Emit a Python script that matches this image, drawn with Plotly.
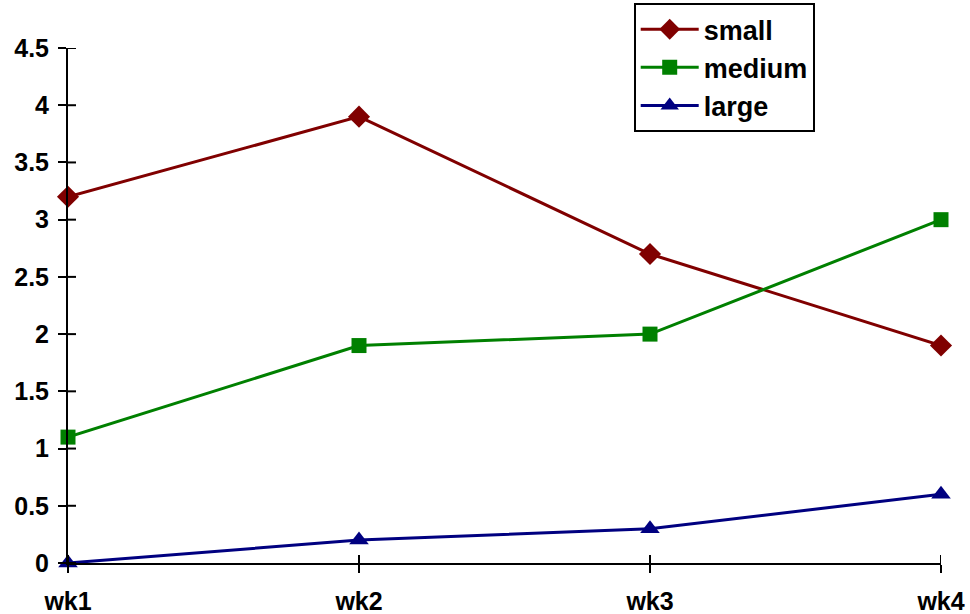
import plotly.graph_objects as go

weeks = ["wk1", "wk2", "wk3", "wk4"]
x_pos = [0, 1, 2, 3]
small = [3.2, 3.9, 2.7, 1.9]
medium = [1.1, 1.9, 2.0, 3.0]
large = [0.0, 0.2, 0.3, 0.6]
y_ticks = [0, 0.5, 1, 1.5, 2, 2.5, 3, 3.5, 4, 4.5]
y_ticktext = ["0", "0.5", "1", "1.5", "2", "2.5", "3", "3.5", "4", "4.5"]

FONT = "Liberation Sans, Arial, sans-serif"

fig = go.Figure()
series = [
    ("small", small, "#800000", "diamond", 17),
    ("medium", medium, "#008000", "square", 15),
    ("large", large, "#000080", "triangle-up", 17),
]
for i, (name, vals, col, sym, sz) in enumerate(series):
    fig.add_trace(go.Scatter(
        x=x_pos, y=vals, name=name, mode="lines+markers",
        line=dict(color=col, width=3),
        marker=dict(symbol=sym, size=sz, color=col),
        cliponaxis=False, legendgroup=f"g{i}",
    ))

# inner half of the crossing tick marks
shapes = []
for xv in x_pos:
    shapes.append(dict(type="line", xref="x", yref="y", ysizemode="pixel", yanchor=0,
                       x0=xv, x1=xv, y0=0, y1=8, line=dict(color="black", width=2),
                       layer="above"))
for yv in y_ticks:
    shapes.append(dict(type="line", xref="x", yref="y", xsizemode="pixel", xanchor=0,
                       x0=0, x1=8, y0=yv, y1=yv, line=dict(color="black", width=2),
                       layer="above"))

tickfont = dict(family=FONT, size=25, color="black", weight="bold")

fig.update_layout(
    width=970, height=614,
    margin=dict(l=68, r=29, t=48, b=51, autoexpand=False),
    paper_bgcolor="white", plot_bgcolor="white",
    font=dict(family=FONT, size=22, color="black"),
    showlegend=True,
    shapes=shapes,
    legend=dict(
        x=0.648, y=1.087, xanchor="left", yanchor="top",
        bgcolor="white", bordercolor="black", borderwidth=2,
        font=dict(family=FONT, size=27, color="black", weight="bold"),
        tracegroupgap=0, itemwidth=58,
    ),
    xaxis=dict(
        range=[0, 3], tickvals=x_pos, ticktext=weeks, automargin=False,
        showline=True, linecolor="black", linewidth=2,
        ticks="outside", ticklen=8, tickwidth=2, tickcolor="black",
        showgrid=False, zeroline=False, ticklabelstandoff=7,
        tickfont=tickfont,
    ),
    yaxis=dict(
        range=[0, 4.5], tickvals=y_ticks, ticktext=y_ticktext, automargin=False,
        showline=True, linecolor="black", linewidth=2,
        ticks="outside", ticklen=8, tickwidth=2, tickcolor="black",
        showgrid=False, zeroline=False, ticklabelstandoff=4,
        tickfont=tickfont,
    ),
)

fig.write_html(
    "out.html",
    config={"displayModeBar": False},
    post_script="document.body.style.margin='0';document.body.style.overflow='hidden';",
)
